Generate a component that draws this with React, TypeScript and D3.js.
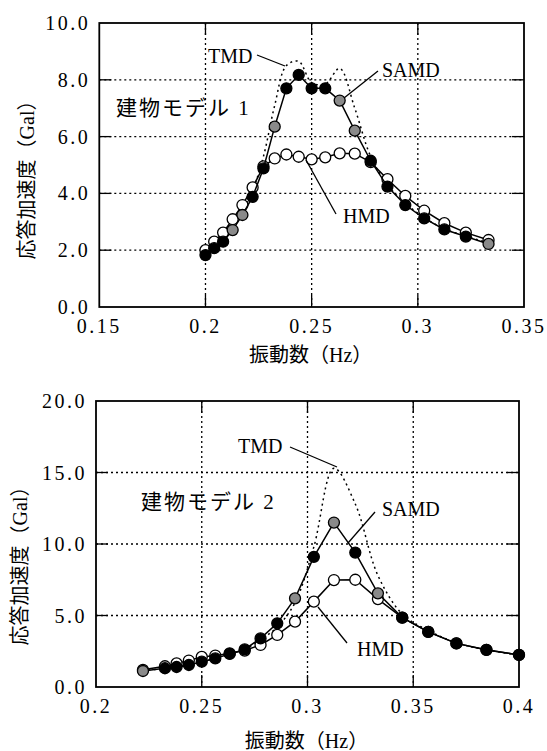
import React from "react";
import * as d3 from "d3";

// ---- Data: building model 1 ----
const topFreq = [0.2, 0.2041, 0.2083, 0.2128, 0.2174, 0.2222, 0.2273, 0.2326, 0.2381, 0.2439, 0.25, 0.2564, 0.2632, 0.2703, 0.2778, 0.2857, 0.2941, 0.303, 0.3125, 0.3226, 0.3333];
const topSAMD = [1.83, 2.07, 2.3, 2.71, 3.24, 3.88, 4.88, 6.35, 7.7, 8.17, 7.7, 7.7, 7.27, 6.21, 5.15, 4.24, 3.59, 3.12, 2.73, 2.48, 2.22];
const topSAMDTone = ["b", "b", "b", "g", "g", "b", "b", "g", "b", "b", "b", "b", "g", "g", "b", "b", "b", "b", "b", "b", "g"];
const topHMD = [2.0, 2.3, 2.62, 3.09, 3.59, 4.21, 4.95, 5.23, 5.37, 5.29, 5.2, 5.27, 5.41, 5.4, 5.1, 4.5, 3.91, 3.39, 2.95, 2.62, 2.36];
const topTMD = [1.9, 2.1, 2.4, 2.8, 3.35, 4.1, 5.3, 7.1, 8.5, 8.65, 7.9, 7.85, 8.4, 7.0, 5.3, 4.3, 3.65, 3.15, 2.75, 2.5, 2.25];
const topXTicks = [0.15, 0.2, 0.25, 0.3, 0.35];
const topYTicks = [0, 2, 4, 6, 8, 10];

// ---- Data: building model 2 ----
const botFreq = [0.2222, 0.2326, 0.2381, 0.2439, 0.25, 0.2564, 0.2632, 0.2703, 0.2778, 0.2857, 0.2941, 0.303, 0.3125, 0.3226, 0.3333, 0.3448, 0.3571, 0.3704, 0.3846, 0.4];
const botSAMD = [1.12, 1.31, 1.4, 1.54, 1.77, 2.0, 2.31, 2.63, 3.4, 4.45, 6.2, 9.1, 11.5, 9.4, 6.55, 4.85, 3.85, 3.05, 2.59, 2.24];
const botSAMDTone = ["g", "b", "b", "b", "b", "b", "b", "b", "b", "b", "g", "b", "g", "b", "g", "b", "b", "b", "b", "b"];
const botHMD = [1.2, 1.45, 1.65, 1.85, 2.1, 2.2, 2.35, 2.55, 2.94, 3.64, 4.57, 5.97, 7.48, 7.5, 6.15, 4.85, 3.85, 3.05, 2.6, 2.24];
const botTMD = [1.15, 1.3, 1.4, 1.55, 1.75, 2.0, 2.3, 2.65, 3.3, 4.2, 5.9, 9.8, 15.3, 12.8, 7.8, 5.1, 3.95, 3.1, 2.6, 2.25];
const botXTicks = [0.2, 0.25, 0.3, 0.35, 0.4];
const botYTicks = [0, 5, 10, 15, 20];

const xTitle = "振動数（Hz）";
const yTitle = "応答加速度（Gal）";

const FONT = "'Liberation Serif', 'Noto Sans CJK JP', serif";
const GREY = "#8a8a8a";

type Ann = { text: string; tx: number; ty: number; x1: number; y1: number; x2: number; y2: number };

type PanelProps = {
  freq: number[];
  samd: number[];
  tone: string[];
  hmd: number[];
  tmd: number[];
  xTicks: number[];
  yTicks: number[];
  xDomain: [number, number];
  yDomain: [number, number];
  left: number;
  right: number;
  top: number;
  bottom: number;
  model: string;
  modelX: number;
  modelY: number;
  anns: Ann[];
  xTitleY: number;
  yTitleX: number;
  yTitleY: number;
};

function fmtX(v: number) {
  return String(+v.toFixed(2));
}

function Panel(p: PanelProps) {
  const x = d3.scaleLinear().domain(p.xDomain).range([p.left, p.right]);
  const y = d3.scaleLinear().domain(p.yDomain).range([p.bottom, p.top]);
  const lin = d3
    .line<number>()
    .x((_, i) => x(p.freq[i]))
    .y((d) => y(d));
  const smooth = d3
    .line<number>()
    .x((_, i) => x(p.freq[i]))
    .y((d) => y(d))
    .curve(d3.curveCatmullRom.alpha(0.5));
  const tickLen = 12;
  const r = 5.5;
  return (
    <g>
      {/* dotted grid */}
      {p.xTicks.slice(1, -1).map((t) => (
        <line key={"gx" + t} x1={x(t)} x2={x(t)} y1={p.top} y2={p.bottom} stroke="#000" strokeWidth={1.3} strokeDasharray="2,3" />
      ))}
      {p.yTicks.slice(1, -1).map((t) => (
        <line key={"gy" + t} x1={p.left} x2={p.right} y1={y(t)} y2={y(t)} stroke="#000" strokeWidth={1.3} strokeDasharray="2,3" />
      ))}
      {/* inward ticks */}
      {p.xTicks.slice(1, -1).map((t) => (
        <g key={"tx" + t}>
          <line x1={x(t)} x2={x(t)} y1={p.bottom} y2={p.bottom - tickLen} stroke="#000" strokeWidth={1.3} />
          <line x1={x(t)} x2={x(t)} y1={p.top} y2={p.top + tickLen} stroke="#000" strokeWidth={1.3} />
        </g>
      ))}
      {p.yTicks.slice(1, -1).map((t) => (
        <g key={"ty" + t}>
          <line x1={p.left} x2={p.left + tickLen} y1={y(t)} y2={y(t)} stroke="#000" strokeWidth={1.3} />
          <line x1={p.right} x2={p.right - tickLen} y1={y(t)} y2={y(t)} stroke="#000" strokeWidth={1.3} />
        </g>
      ))}
      {/* frame */}
      <rect x={p.left} y={p.top} width={p.right - p.left} height={p.bottom - p.top} fill="none" stroke="#000" strokeWidth={1.8} />
      {/* tick labels */}
      {p.xTicks.map((t) => (
        <text key={"lx" + t} x={x(t)} y={p.bottom + 26} textAnchor="middle" fontSize={20} letterSpacing={2.5} fontFamily={FONT}>
          {fmtX(t)}
        </text>
      ))}
      {p.yTicks.map((t) => (
        <text key={"ly" + t} x={p.left - 9} y={y(t)} dy="0.35em" textAnchor="end" fontSize={20} letterSpacing={2.5} fontFamily={FONT}>
          {t.toFixed(1)}
        </text>
      ))}
      {/* axis titles */}
      <text x={(p.left + p.right) / 2 - 1} y={p.xTitleY} textAnchor="middle" fontSize={20} fontFamily={FONT}>
        {xTitle}
      </text>
      <text
        transform={`translate(${p.yTitleX},${p.yTitleY}) rotate(-90)`}
        textAnchor="middle"
        dy="0.35em"
        fontSize={20}
        fontFamily={FONT}
      >
        {yTitle}
      </text>
      {/* model label */}
      <text x={p.modelX} y={p.modelY} fontSize={21} letterSpacing={2} fontFamily={FONT}>
        {p.model}
      </text>
      {/* series */}
      <path d={smooth(p.tmd) || ""} fill="none" stroke="#000" strokeWidth={1.5} strokeDasharray="2,3.5" />
      <path d={lin(p.hmd) || ""} fill="none" stroke="#000" strokeWidth={1.5} />
      {p.hmd.map((v, i) => (
        <circle key={"h" + i} cx={x(p.freq[i])} cy={y(v)} r={r} fill="#fff" stroke="#000" strokeWidth={1.3} />
      ))}
      <path d={lin(p.samd) || ""} fill="none" stroke="#000" strokeWidth={1.5} />
      {p.samd.map((v, i) => (
        <circle key={"s" + i} cx={x(p.freq[i])} cy={y(v)} r={r} fill={p.tone[i] === "g" ? GREY : "#000"} stroke="#000" strokeWidth={1.3} />
      ))}
      {/* annotations */}
      {p.anns.map((a) => (
        <g key={a.text}>
          <line x1={a.x1} y1={a.y1} x2={a.x2} y2={a.y2} stroke="#000" strokeWidth={1.3} />
          <text x={a.tx} y={a.ty} fontSize={20} fontFamily={FONT}>
            {a.text}
          </text>
        </g>
      ))}
    </g>
  );
}

export default function App() {
  return (
    <svg width={547} height={751} style={{ position: "absolute", left: 0, top: 0, background: "#fff" }}>
      <rect x={0} y={0} width={547} height={751} fill="#fff" />
      <Panel
        freq={topFreq}
        samd={topSAMD}
        tone={topSAMDTone}
        hmd={topHMD}
        tmd={topTMD}
        xTicks={topXTicks}
        yTicks={topYTicks}
        xDomain={[0.15, 0.35]}
        yDomain={[0, 10]}
        left={99.3}
        right={524}
        top={23}
        bottom={307}
        model="建物モデル 1"
        modelX={116}
        modelY={115}
        anns={[
          { text: "TMD", tx: 208, ty: 63, x1: 257, y1: 55, x2: 285, y2: 66 },
          { text: "SAMD", tx: 382, ty: 77, x1: 378, y1: 71, x2: 344, y2: 98 },
          { text: "HMD", tx: 343, ty: 223, x1: 336, y1: 214, x2: 306, y2: 160 },
        ]}
        xTitleY={362}
        yTitleX={27}
        yTitleY={175}
      />
      <Panel
        freq={botFreq}
        samd={botSAMD}
        tone={botSAMDTone}
        hmd={botHMD}
        tmd={botTMD}
        xTicks={botXTicks}
        yTicks={botYTicks}
        xDomain={[0.2, 0.4]}
        yDomain={[0, 20]}
        left={96}
        right={519}
        top={401}
        bottom={687}
        model="建物モデル 2"
        modelX={141}
        modelY={509}
        anns={[
          { text: "TMD", tx: 238, ty: 453, x1: 290, y1: 447, x2: 337, y2: 467 },
          { text: "SAMD", tx: 382, ty: 516, x1: 375, y1: 512, x2: 348, y2: 543 },
          { text: "HMD", tx: 357, ty: 656, x1: 347, y1: 643, x2: 318, y2: 607 },
        ]}
        xTitleY={748}
        yTitleX={20}
        yTitleY={561}
      />
    </svg>
  );
}
